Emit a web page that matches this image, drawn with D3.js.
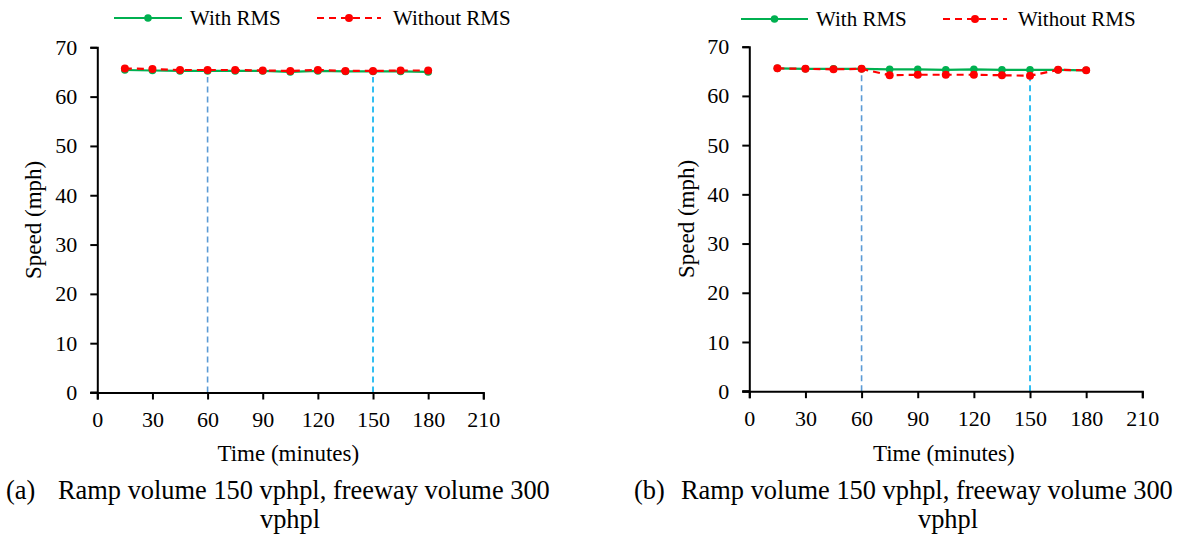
<!DOCTYPE html>
<html>
<head>
<meta charset="utf-8">
<script src="https://cdn.jsdelivr.net/npm/d3@7"></script>
<style>
  html, body { margin: 0; padding: 0; background: #fff; }
</style>
</head>
<body>
<svg id="fig" width="1185" height="535"></svg>
<script>
/* Speed vs time, with / without ramp metering — two panels */
var times = [15, 30, 45, 60, 75, 90, 105, 120, 135, 150, 165, 180];

var withA    = [65.4, 65.3, 65.2, 65.2, 65.2, 65.2, 65.0, 65.2, 65.1, 65.1, 65.1, 65.0];
var withoutA = [65.7, 65.6, 65.4, 65.4, 65.4, 65.3, 65.2, 65.4, 65.2, 65.2, 65.3, 65.3];

var withB    = [65.6, 65.5, 65.5, 65.5, 65.4, 65.4, 65.3, 65.4, 65.3, 65.3, 65.3, 65.2];
var withoutB = [65.6, 65.5, 65.4, 65.5, 64.2, 64.3, 64.3, 64.3, 64.2, 64.1, 65.3, 65.2];

var xTickVals = [0, 30, 60, 90, 120, 150, 180, 210];
var yTickVals = [0, 10, 20, 30, 40, 50, 60, 70];

var markTimes = [60, 150];
var markTopsA = [64, 64];
var markTopsB = [65, 64];

var seriesNames = ['With RMS', 'Without RMS'];
var panelLetters = ['(a)', '(b)'];
var captionText = 'Ramp volume 150 vphpl, freeway volume 300';
var captionWrap = 'vphpl';

(function () {
  'use strict';
  var svg = d3.select('#fig');
  var FONT = 'Liberation Serif';
  var GREEN = '#00b050', RED = '#ff0000';
  var markColors = ['#5b9bd5', '#00b0f0'];

  var panels = [
    { x0: 97.3, x1: 483.3, y0: 392.5, y1: 47.3, w: withA, wo: withoutA, tops: markTopsA,
      yTitleX: 33, legend: { g0: 114, g1: 182, gt: 190, r0: 317, r1: 381, rt: 393, y: 18 },
      capX: 6, capTextX: 58, wrapX: 290 },
    { x0: 749.3, x1: 1142.3, y0: 391.2, y1: 46.7, w: withB, wo: withoutB, tops: markTopsB,
      yTitleX: 686, legend: { g0: 741, g1: 808, gt: 816, r0: 943, r1: 1007, rt: 1018, y: 19 },
      capX: 634, capTextX: 681, wrapX: 948 }
  ];

  function txt(sel, size) {
    return sel.attr('font-family', FONT).attr('font-size', size).attr('fill', '#000');
  }

  panels.forEach(function (p, i) {
    var xs = d3.scaleLinear().domain([0, 210]).range([p.x0, p.x1]);
    var ys = d3.scaleLinear().domain([0, 70]).range([p.y0, p.y1]);
    var g = svg.append('g');

    /* reference lines at metering start / end */
    markTimes.forEach(function (t, k) {
      g.append('line')
        .attr('x1', xs(t)).attr('x2', xs(t))
        .attr('y1', ys(0)).attr('y2', ys(p.tops[k]))
        .attr('stroke', markColors[k]).attr('stroke-width', 1.6)
        .attr('stroke-dasharray', '6,4');
    });

    /* axes */
    var xAxis = d3.axisBottom(xs).tickValues(xTickVals).tickSizeOuter(0).tickSize(7).tickPadding(12);
    var yAxis = d3.axisLeft(ys).tickValues(yTickVals).tickSizeOuter(0).tickSize(7).tickPadding(13);
    var gx = g.append('g').attr('transform', 'translate(0,' + ys(0) + ')').call(xAxis);
    var gy = g.append('g').attr('transform', 'translate(' + xs(0) + ',0)').call(yAxis);
    [gx, gy].forEach(function (a) {
      a.attr('font-family', FONT).attr('font-size', 22);
      a.select('.domain').attr('stroke', '#000').attr('stroke-width', 2);
      a.selectAll('.tick line').attr('stroke', '#000').attr('stroke-width', 2);
      txt(a.selectAll('.tick text'), 22);
    });
    /* extend x-axis line left over the y tick, as in the original */
    gx.append('line').attr('x1', -7).attr('x2', 0).attr('stroke', '#000').attr('stroke-width', 2)
      .attr('transform', 'translate(' + xs(0) + ',0)');

    /* axis titles */
    txt(g.append('text'), 23)
      .attr('x', (p.x0 + p.x1) / 2 - 2).attr('y', 461)
      .attr('text-anchor', 'middle')
      .text('Time (minutes)');
    txt(g.append('text'), 23)
      .attr('transform', 'translate(' + (p.yTitleX + 8) + ',' + ((p.y0 + p.y1) / 2) + ') rotate(-90)')
      .attr('text-anchor', 'middle')
      .text('Speed (mph)');

    /* series */
    var line = function (vals) {
      return d3.line().x(function (d, j) { return xs(times[j]); })
        .y(function (d) { return ys(d); })(vals);
    };
    g.append('path').attr('d', line(p.w)).attr('fill', 'none')
      .attr('stroke', GREEN).attr('stroke-width', 2.2);
    g.selectAll('.cw').data(p.w).enter().append('circle')
      .attr('cx', function (d, j) { return xs(times[j]); })
      .attr('cy', function (d) { return ys(d); })
      .attr('r', 3.8).attr('fill', GREEN);
    g.append('path').attr('d', line(p.wo)).attr('fill', 'none')
      .attr('stroke', RED).attr('stroke-width', 2.2).attr('stroke-dasharray', '7,5');
    g.selectAll('.cr').data(p.wo).enter().append('circle')
      .attr('cx', function (d, j) { return xs(times[j]); })
      .attr('cy', function (d) { return ys(d); })
      .attr('r', 4).attr('fill', RED);

    /* legend */
    var L = p.legend;
    g.append('line').attr('x1', L.g0).attr('x2', L.g1).attr('y1', L.y).attr('y2', L.y)
      .attr('stroke', GREEN).attr('stroke-width', 2.2);
    g.append('circle').attr('cx', (L.g0 + L.g1) / 2).attr('cy', L.y).attr('r', 3.8).attr('fill', GREEN);
    txt(g.append('text'), 21).attr('x', L.gt).attr('y', L.y + 7).text(seriesNames[0]);
    g.append('line').attr('x1', L.r0).attr('x2', L.r1).attr('y1', L.y).attr('y2', L.y)
      .attr('stroke', RED).attr('stroke-width', 2.2).attr('stroke-dasharray', '7,5');
    g.append('circle').attr('cx', (L.r0 + L.r1) / 2).attr('cy', L.y).attr('r', 4).attr('fill', RED);
    txt(g.append('text'), 21).attr('x', L.rt).attr('y', L.y + 7).text(seriesNames[1]);

    /* caption */
    txt(g.append('text'), 26.4).attr('x', p.capX).attr('y', 499).text(panelLetters[i]);
    txt(g.append('text'), 26.4).attr('x', p.capTextX).attr('y', 499).text(captionText);
    txt(g.append('text'), 26.4).attr('x', p.wrapX).attr('y', 528)
      .attr('text-anchor', 'middle').text(captionWrap);
  });
})();
</script>
</body>
</html>
